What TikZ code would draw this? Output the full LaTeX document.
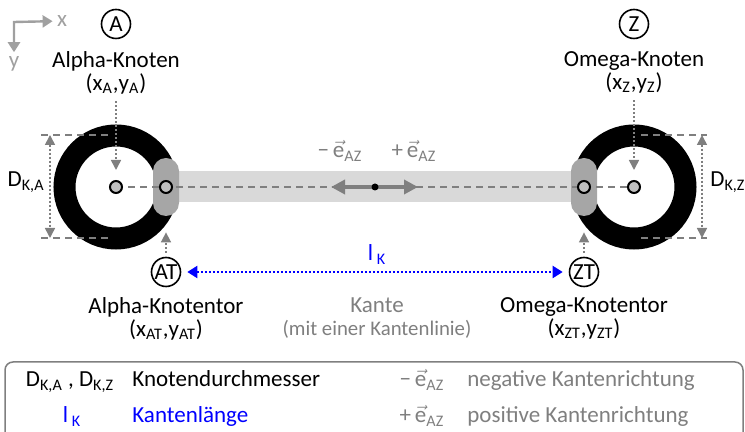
\documentclass[tikz,border=0pt]{standalone}
\usepackage{fontspec}
\setmainfont{Carlito}
\usepackage{tikz}
\usetikzlibrary{arrows.meta, positioning, calc}

\definecolor{kgray}{HTML}{7F7F7F}
\definecolor{axgray}{HTML}{A0A0A0}
\definecolor{bandgray}{HTML}{D9D9D9}
\definecolor{gategray}{HTML}{A6A6A6}
\definecolor{hubgray}{HTML}{BFBFBF}

\newcommand{\eAZ}{\,\ensuremath{\vec{\mbox{e}}}\textsubscript{AZ}}

\begin{document}
\begin{tikzpicture}[
  x=0.5pt, y=-0.5pt,
  font=\fontsize{11.5}{11.5}\selectfont,
  tag/.style={circle, draw, line width=0.8pt, inner sep=0pt, minimum size=14.5pt},
  ring/.style={circle, draw, line width=11pt, inner sep=0pt, minimum size=51.5pt},
  hub/.style={circle, draw, fill=hubgray, line width=1pt, inner sep=0pt, minimum size=6pt},
  gate/.style={rectangle, fill=gategray, rounded corners=6.5pt, inner sep=0pt, minimum width=13pt, minimum height=29pt},
  caption/.style={align=center},
  entry/.style={inner sep=0pt},
  axis/.style={draw=axgray, line width=1.2pt, {Triangle[length=5pt, width=6pt]}-{Triangle[length=5pt, width=6pt]}},
  centerline/.style={draw=kgray, line width=0.75pt, dash pattern=on 3.5pt off 2.5pt},
  dimline/.style={draw=kgray, line width=0.75pt, dash pattern=on 3.5pt off 2.5pt},
  pointer/.style={draw=kgray, line width=0.8pt, dash pattern=on 1pt off 1pt, -{Triangle[length=5pt, width=5pt]}},
  measure/.style={draw=kgray, line width=0.8pt, dash pattern=on 1pt off 1pt, {Triangle[length=5pt, width=5pt]}-{Triangle[length=5pt, width=5pt]}},
  lenarrow/.style={draw=blue, line width=1pt, dash pattern=on 1pt off 1pt, {Triangle[length=5pt, width=6pt]}-{Triangle[length=5pt, width=6pt]}},
  dir/.style={draw=kgray, line width=2pt, {Triangle[length=7pt, width=7pt]}-{Triangle[length=7pt, width=7pt]}}
]
  \useasboundingbox (0,0) rectangle (745,432);

  % axes
  \coordinate (orig) at (14,22);
  \node[text=axgray, inner sep=2pt] (xlab) at (62,21) {x};
  \node[text=axgray, inner sep=2pt] (ylab) at (14,64) {y};
  \draw[axis] (xlab) -- (orig) -- (ylab);

  % nodes and edge
  \coordinate (gA) at (166,187);
  \coordinate (gZ) at (584,187);
  \node[ring] (ringA) at (116,187) {};
  \node[ring] (ringZ) at (634,187) {};
  \draw[bandgray, line width=15.5pt] (gA) -- (gZ);
  \node[gate] (gateA) at (gA) {};
  \node[gate] (gateZ) at (gZ) {};
  \draw[centerline] (ringA.center) -- (ringZ.center);
  \node[hub] (hubA) at (ringA.center) {};
  \node[hub] (hubZ) at (ringZ.center) {};
  \node[hub] (hubgA) at (gA) {};
  \node[hub] (hubgZ) at (gZ) {};

  % directions
  \coordinate (eneg) at (331,187);
  \coordinate (epos) at (418,187);
  \draw[dir] (eneg) -- (epos);
  \node[circle, fill, inner sep=0pt, minimum size=3.5pt] (mid) at (375,187) {};
  \node[text=kgray, anchor=base] (eminus) at (340,158) {−\eAZ};
  \node[text=kgray, anchor=base] (eplus) at (414,158) {+\eAZ};

  % top labels
  \node[tag] (tA) at (116,24) {A};
  \node[caption, below=2.5pt of tA] (capA) {Alpha-Knoten\\(x\textsubscript{A},y\textsubscript{A})};
  \node[tag] (tZ) at (634,24) {Z};
  \node[caption, below=2.5pt of tZ] (capZ) {Omega-Knoten\\(x\textsubscript{Z},y\textsubscript{Z})};
  \draw[pointer, shorten >=5pt] (capA) -- (hubA);
  \draw[pointer, shorten >=5pt] (capZ) -- (hubZ);

  % diameters
  \draw[dimline] (41,135) -- (108,135);
  \draw[dimline] (41,238) -- (108,238);
  \draw[dimline] (641,135) -- (707,135);
  \draw[dimline] (641,238) -- (707,238);
  \coordinate (dA1) at (50,135);
  \coordinate (dA2) at (50,238);
  \coordinate (dZ1) at (702,135);
  \coordinate (dZ2) at (702,238);
  \draw[measure] (dA1) -- (dA2);
  \draw[measure] (dZ1) -- (dZ2);
  \node[entry, anchor=base east] (DA) at (45,187) {D\textsubscript{K,A}};
  \node[entry, anchor=base west] (DZ) at (710,187) {D\textsubscript{K,Z}};

  % bottom labels
  \node[tag] (tAT) at (166,272) {AT};
  \node[caption, below=1.5pt of tAT] (capAT) {Alpha-Knotentor\\(x\textsubscript{AT},y\textsubscript{AT})};
  \node[tag] (tZT) at (584,272) {ZT};
  \node[caption, below=1.5pt of tZT] (capZT) {Omega-Knotentor\\(x\textsubscript{ZT},y\textsubscript{ZT})};
  \draw[pointer, shorten <=2pt, shorten >=8pt] (tAT) -- (gateA);
  \draw[pointer, shorten <=2pt, shorten >=8pt] (tZT) -- (gateZ);
  \draw[lenarrow, shorten <=3pt, shorten >=3pt] (tAT) -- (tZT);
  \node[text=blue, anchor=base] (lK) at (377,261) {l\,\textsubscript{K}};
  \node[caption, text=kgray, anchor=north] (kante) at (capAT.north -| lK)
    {Kante\\{\fontsize{10.4}{11}\selectfont (mit einer Kantenlinie)}};

  % legend
  \draw[kgray, line width=0.75pt, rounded corners=4pt] (5,440) -- (5,362) -- (743,362) -- (743,440);
  \node[entry, anchor=base] (lgD) at (70,387) {D\textsubscript{K,A} , D\textsubscript{K,Z}};
  \node[entry, anchor=base west] (lgDtxt) at (132,387) {Knotendurchmesser};
  \node[entry, text=blue, anchor=base] (lgL) at (72,423) {l\,\textsubscript{K}};
  \node[entry, text=blue, anchor=base west] (lgLtxt) at (132,423) {Kantenlänge};
  \node[entry, text=kgray, anchor=base] (lgNeg) at (422,387) {−\eAZ};
  \node[entry, text=kgray, anchor=base west] (lgNegtxt) at (467,387) {negative Kantenrichtung};
  \node[entry, text=kgray, anchor=base] (lgPos) at (422,423) {+\eAZ};
  \node[entry, text=kgray, anchor=base west] (lgPostxt) at (467,423) {positive Kantenrichtung};
\end{tikzpicture}
\end{document}
